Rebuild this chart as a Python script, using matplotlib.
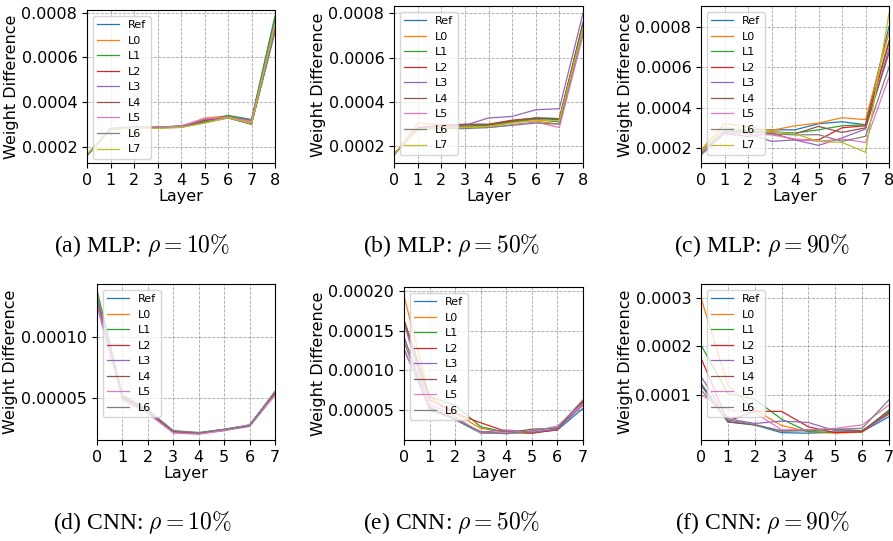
import matplotlib
matplotlib.use('Agg')
import matplotlib.pyplot as plt

plt.rcParams['mathtext.fontset'] = 'cm'

# MLP panels: layers 0..8, values in units of 1e-4
mlp_layers = list(range(9))
mlp_names = ['Ref', 'L0', 'L1', 'L2', 'L3', 'L4', 'L5', 'L6', 'L7']

mlp10 = [
    [1.63, 2.78, 2.88, 2.86, 2.92, 3.18, 3.35, 3.18, 7.75],
    [1.62, 2.80, 2.86, 2.88, 2.90, 3.28, 3.38, 3.12, 7.45],
    [1.58, 2.77, 2.88, 2.84, 2.94, 3.15, 3.40, 3.22, 7.85],
    [1.63, 2.80, 2.86, 2.86, 2.90, 3.20, 3.32, 3.05, 7.30],
    [1.62, 2.82, 2.90, 2.88, 2.93, 3.22, 3.33, 3.20, 7.60],
    [1.63, 2.78, 2.86, 2.85, 2.88, 3.10, 3.30, 3.00, 7.15],
    [1.62, 2.80, 2.88, 2.86, 2.92, 3.25, 3.32, 3.10, 7.40],
    [1.64, 2.79, 2.87, 2.84, 2.87, 3.08, 3.28, 3.02, 7.20],
    [1.65, 2.76, 2.85, 2.82, 2.86, 3.05, 3.30, 3.05, 7.50],
]
mlp50 = [
    [1.63, 2.78, 2.86, 2.88, 2.93, 3.08, 3.22, 3.10, 7.55],
    [1.60, 3.05, 2.98, 2.90, 2.92, 3.10, 3.15, 3.00, 7.40],
    [1.62, 2.82, 2.90, 2.92, 2.95, 3.12, 3.25, 3.20, 7.60],
    [1.63, 2.85, 2.95, 3.00, 3.00, 3.18, 3.28, 3.25, 7.50],
    [1.62, 2.80, 2.90, 2.95, 3.28, 3.35, 3.65, 3.70, 8.00],
    [1.63, 2.80, 2.92, 2.98, 2.98, 3.15, 3.28, 3.25, 7.45],
    [1.62, 2.78, 2.88, 2.85, 2.85, 2.98, 3.10, 2.85, 7.00],
    [1.64, 2.75, 2.80, 2.80, 2.85, 2.95, 3.05, 3.00, 7.20],
    [1.65, 2.78, 2.85, 2.85, 2.90, 3.05, 3.18, 3.15, 7.35],
]
mlp90 = [
    [1.84, 2.80, 2.90, 2.90, 2.90, 3.20, 3.30, 3.15, 8.00],
    [1.90, 3.20, 3.05, 2.87, 3.10, 3.23, 3.50, 3.40, 7.70],
    [1.70, 2.80, 2.80, 2.80, 2.74, 2.90, 3.10, 3.15, 7.30],
    [1.70, 2.72, 2.57, 2.74, 2.40, 2.40, 3.00, 3.10, 7.20],
    [1.65, 2.75, 2.70, 2.33, 2.40, 2.13, 2.50, 2.94, 6.90],
    [1.70, 2.80, 2.80, 2.80, 2.70, 3.07, 2.77, 3.00, 6.70],
    [1.70, 2.80, 2.70, 2.65, 2.45, 2.33, 2.44, 2.28, 5.50],
    [1.70, 2.85, 2.80, 2.70, 2.65, 2.66, 2.33, 2.58, 6.00],
    [1.84, 3.00, 2.90, 2.80, 2.70, 2.33, 2.28, 1.79, 8.66],
]

# CNN panels: layers 0..7, values in units of 1e-5
cnn_layers = list(range(8))
cnn_names = ['Ref', 'L0', 'L1', 'L2', 'L3', 'L4', 'L5', 'L6']

cnn10 = [
    [13.2, 5.1, 3.9, 2.20, 2.10, 2.35, 2.70, 5.4],
    [13.0, 5.0, 3.9, 2.20, 2.10, 2.35, 2.70, 5.3],
    [13.8, 5.2, 4.0, 2.25, 2.10, 2.40, 2.75, 5.5],
    [12.9, 5.0, 3.8, 2.20, 2.05, 2.35, 2.70, 5.3],
    [12.5, 4.9, 3.8, 2.15, 2.05, 2.30, 2.65, 5.2],
    [13.1, 5.1, 3.9, 2.25, 2.10, 2.40, 2.75, 5.4],
    [12.7, 4.8, 3.7, 2.10, 2.00, 2.30, 2.80, 5.2],
    [13.3, 5.2, 4.0, 2.30, 2.15, 2.40, 2.70, 5.5],
]
cnn50 = [
    [12.7, 5.2, 3.8, 2.1, 2.1, 2.2, 2.5, 5.2],
    [19.4, 6.7, 4.6, 2.7, 2.2, 2.1, 2.6, 5.8],
    [16.4, 6.7, 5.6, 2.9, 2.2, 2.1, 2.6, 6.0],
    [16.3, 6.3, 4.6, 3.4, 2.3, 2.1, 2.5, 6.0],
    [15.9, 5.5, 3.9, 2.2, 2.5, 2.2, 2.6, 5.6],
    [14.2, 5.3, 3.9, 2.2, 2.1, 2.6, 2.7, 6.2],
    [12.5, 5.8, 4.2, 2.1, 2.2, 2.3, 3.0, 5.8],
    [13.6, 5.0, 3.8, 2.3, 2.0, 2.4, 2.8, 6.3],
]
cnn90 = [
    [12.4, 4.5, 3.8, 2.2, 2.1, 2.3, 2.4, 5.5],
    [30.0, 12.0, 6.9, 3.7, 2.4, 2.1, 2.3, 6.4],
    [20.3, 10.3, 9.1, 5.0, 2.4, 2.3, 2.4, 6.9],
    [17.6, 4.6, 6.6, 6.6, 3.4, 2.2, 2.4, 6.2],
    [13.8, 5.1, 4.1, 4.6, 4.3, 2.6, 2.6, 6.0],
    [12.0, 4.4, 3.8, 2.6, 2.8, 2.9, 2.6, 6.6],
    [10.0, 6.9, 6.3, 2.8, 2.8, 3.1, 3.8, 7.9],
    [11.0, 4.8, 3.9, 2.5, 2.6, 2.9, 3.1, 9.0],
]

captions = [r'(a) MLP: $\rho = 10\%$', r'(b) MLP: $\rho = 50\%$', r'(c) MLP: $\rho = 90\%$',
            r'(d) CNN: $\rho = 10\%$', r'(e) CNN: $\rho = 50\%$', r'(f) CNN: $\rho = 90\%$']

W, H = 893, 541
fig = plt.figure(figsize=(W / 100, H / 100), dpi=100)

# panel boxes in pixels: left, right, top, bottom
boxes = [(87, 275, 10, 163), (394, 583, 6, 163), (701, 889, 6, 163),
         (97, 275, 284, 440), (404, 583, 287, 440), (701, 889, 284, 440)]
ylims = [(0.000127, 0.000812), (0.000125, 0.000833), (0.000126, 0.000902),
         (0.0000153, 0.000143), (0.0000123, 0.000205), (0.0000069, 0.000329)]
yticks = [[0.0002, 0.0004, 0.0006, 0.0008]] * 3 + [
    [0.00005, 0.00010], [0.00005, 0.00010, 0.00015, 0.00020], [0.0001, 0.0002, 0.0003]]
yfmt = ['%.4f', '%.4f', '%.4f', '%.5f', '%.5f', '%.4f']

panels = [(mlp_layers, mlp_names, mlp10, 1e-4), (mlp_layers, mlp_names, mlp50, 1e-4),
          (mlp_layers, mlp_names, mlp90, 1e-4), (cnn_layers, cnn_names, cnn10, 1e-5),
          (cnn_layers, cnn_names, cnn50, 1e-5), (cnn_layers, cnn_names, cnn90, 1e-5)]
cap_x = [142, 452, 762, 142, 452, 762]
cap_y = [246, 246, 246, 523, 523, 523]

for i, (layers, names, series, scale) in enumerate(panels):
    l, r, t, b = boxes[i]
    ax = fig.add_axes([l / W, (H - b) / H, (r - l) / W, (b - t) / H])
    for name, vals in zip(names, series):
        ax.plot(layers, [v * scale for v in vals], lw=0.9, label=name)
    ax.set_xlim(layers[0], layers[-1])
    ax.set_xticks(layers)
    ax.set_ylim(*ylims[i])
    ax.set_yticks(yticks[i])
    ax.set_yticklabels([yfmt[i] % v for v in yticks[i]])
    ax.tick_params(labelsize=11.5)
    ax.set_xlabel('Layer', fontsize=11.5, labelpad=1)
    ax.set_ylabel('Weight Difference', fontsize=11.5, labelpad=2)
    ax.grid(linestyle='--', linewidth=0.6, color='gray', alpha=0.7)
    ax.legend(loc='upper left', fontsize=8)
    fig.text(cap_x[i] / W, 1 - cap_y[i] / H, captions[i], ha='center', va='center',
             fontsize=17, family='Liberation Serif')

fig.savefig('out.png', dpi=100)
